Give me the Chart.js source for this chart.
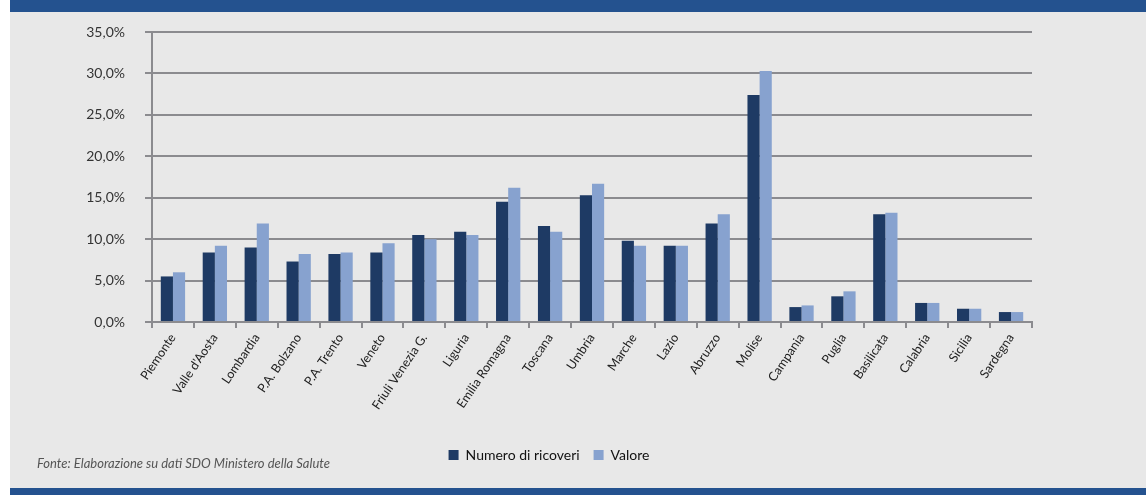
<!DOCTYPE html>
<html lang="it">
<head>
<meta charset="utf-8">
<title>Ricoveri per regione</title>
<script src="https://cdn.jsdelivr.net/npm/chart.js@4/dist/chart.umd.min.js"></script>
<style>
  html, body { margin: 0; padding: 0; background: #ffffff; }
  body { width: 1146px; height: 495px; position: relative; overflow: hidden; font-family: Lato, "Open Sans", sans-serif; }
  #panel { position: absolute; left: 10px; top: 0; width: 1136px; height: 495px; background: #e8e8e8; }
  #bandTop { position: absolute; left: 10px; top: 0; width: 1136px; height: 12px; background: #24528f; }
  #bandBottom { position: absolute; left: 10px; top: 488px; width: 1136px; height: 7px; background: #24528f; }
  #wrap { position: absolute; left: 10px; top: 12px; width: 1136px; height: 476px; }
  #note { position: absolute; left: 37px; top: 455px; font-style: italic; font-size: 13px; color: #555555; white-space: nowrap; }
</style>
</head>
<body>
<div id="panel"></div>
<div id="bandTop"></div>
<div id="bandBottom"></div>
<div id="wrap"><canvas id="c" width="1136" height="476"></canvas></div>
<div id="note">Fonte: Elaborazione su dati SDO Ministero della Salute</div>
<script>
// Regioni
const regioni = [
  "Piemonte", "Valle d'Aosta", "Lombardia", "P.A. Bolzano", "P.A. Trento",
  "Veneto", "Friuli Venezia G.", "Liguria", "Emilia Romagna", "Toscana",
  "Umbria", "Marche", "Lazio", "Abruzzo", "Molise", "Campania", "Puglia",
  "Basilicata", "Calabria", "Sicilia", "Sardegna"
];
// Quota percentuale per numero di ricoveri
const numeroRicoveri = [
  5.5, 8.4, 9.0, 7.3, 8.2, 8.4, 10.5, 10.9, 14.5, 11.6,
  15.3, 9.8, 9.2, 11.9, 27.4, 1.8, 3.1, 13.0, 2.3, 1.6, 1.2
];
// Quota percentuale per valore
const valore = [
  6.0, 9.2, 11.9, 8.2, 8.4, 9.5, 10.0, 10.5, 16.2, 10.9,
  16.7, 9.2, 9.2, 13.0, 30.3, 2.0, 3.7, 13.2, 2.3, 1.6, 1.2
];
const serie = ["Numero di ricoveri", "Valore"];
const yTicks = [0, 5, 10, 15, 20, 25, 30, 35];

const GRID = "#8b8b8f";
const FONT = "Lato, 'Open Sans', sans-serif";

// move the legend block a little to the right of the plot centre
const legendShift = {
  id: "legendShift",
  afterLayout(chart) {
    const lg = chart.legend;
    if (lg) { lg.left += 28; lg.right += 28; }
  }
};

new Chart(document.getElementById("c"), {
  type: "bar",
  data: {
    labels: regioni,
    datasets: [
      { label: serie[0], data: numeroRicoveri, backgroundColor: "#1e3a64",
        categoryPercentage: 0.58, barPercentage: 1.0 },
      { label: serie[1], data: valore, backgroundColor: "#87a2cf",
        categoryPercentage: 0.58, barPercentage: 1.0 }
    ]
  },
  options: {
    responsive: false,
    animation: false,
    events: [],
    layout: { padding: { left: 0, right: 114, top: 20, bottom: 16 } },
    plugins: {
      tooltip: { enabled: false },
      legend: {
        position: "bottom",
        labels: {
          boxWidth: 10, boxHeight: 10, padding: 14,
          color: "#111111",
          font: { family: FONT, size: 14 }
        }
      }
    },
    scales: {
      x: {
        offset: true,
        grid: {
          offset: true, drawOnChartArea: false, drawTicks: true,
          tickLength: 6, color: GRID, lineWidth: 2
        },
        border: { display: true, color: GRID, width: 2 },
        ticks: {
          autoSkip: false, minRotation: 56, maxRotation: 56, padding: 3,
          color: "#222222", font: { family: FONT, size: 12.5 }
        },
        afterFit(scale) { scale.height = 112; }
      },
      y: {
        min: 0, max: 35,
        afterBuildTicks(scale) { scale.ticks = yTicks.map(v => ({ value: v })); },
        grid: { color: GRID, lineWidth: 2, tickLength: 7, drawTicks: true },
        border: { display: true, color: GRID, width: 2 },
        ticks: {
          padding: 20, color: "#333333",
          font: { family: FONT, size: 14 },
          callback: v => v.toFixed(1).replace(".", ",") + "%"
        },
        afterFit(scale) {
          scale.width = 142;
          // label padding should not push the plot area inward
          scale.paddingTop = 0;
          scale.paddingBottom = 0;
        }
      }
    }
  },
  plugins: [legendShift]
});
</script>
</body>
</html>
